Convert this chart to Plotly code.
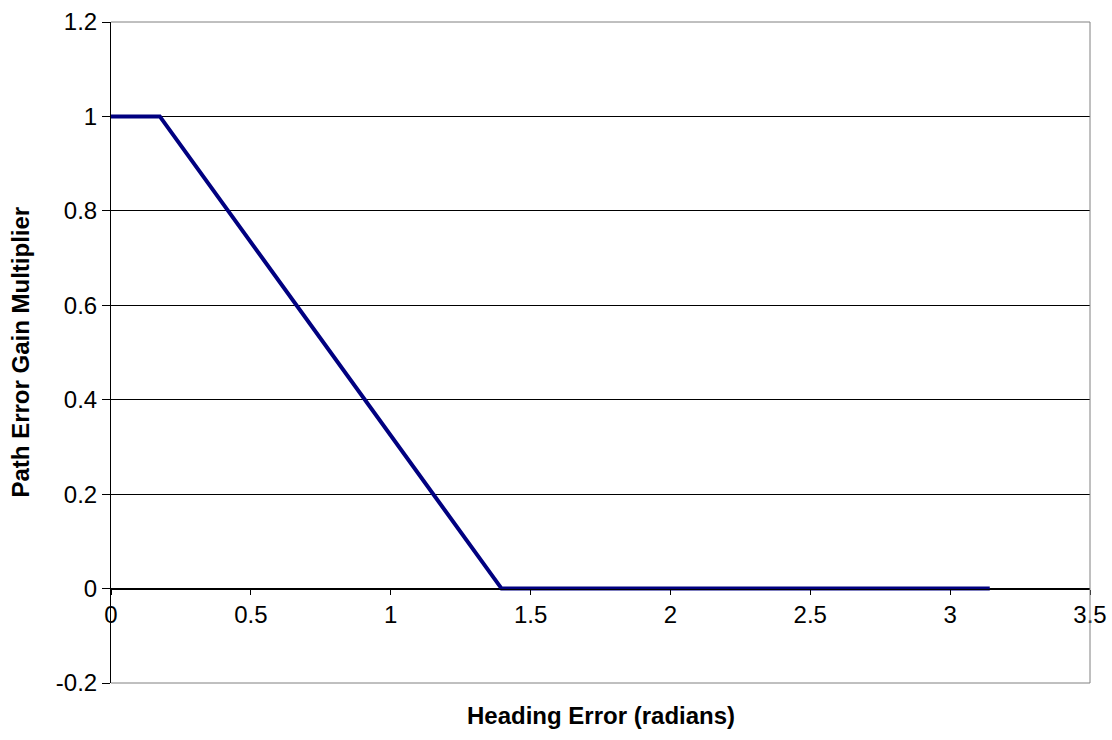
import plotly.graph_objects as go

# Data (breakpoints of the piecewise-linear gain curve)
heading_error = [0.0, 0.1745, 1.3963, 3.1416]
gain_multiplier = [1.0, 1.0, 0.0, 0.0]

x_ticks = [0, 0.5, 1, 1.5, 2, 2.5, 3, 3.5]
y_ticks = [-0.2, 0, 0.2, 0.4, 0.6, 0.8, 1, 1.2]

W, H = 1112, 740
ML, MR, MT, MB = 111, 22, 22, 57
plot_w = W - ML - MR
plot_h = H - MT - MB

FONT = "Liberation Sans, Arial, sans-serif"
FS = 24

fig = go.Figure()
fig.add_trace(go.Scatter(
    x=heading_error, y=gain_multiplier, mode="lines",
    line=dict(color="#000080", width=4), showlegend=False,
))

y0_frac = (0 - (-0.2)) / 1.4

fig.update_layout(
    width=W, height=H,
    margin=dict(l=ML, r=MR, t=MT, b=MB, autoexpand=False),
    paper_bgcolor="white", plot_bgcolor="white",
    font=dict(family=FONT, size=FS, color="black"),
    xaxis=dict(
        range=[0, 3.5], tickvals=x_ticks, ticktext=[f"{v:g}" for v in x_ticks],
        showgrid=False, zeroline=False, showline=True, linecolor="black", linewidth=1,
        ticks="outside", ticklen=5, tickcolor="black", automargin=False,
        anchor="free", position=y0_frac,
        tickfont=dict(size=FS, family=FONT),
    ),
    yaxis=dict(
        range=[-0.2, 1.2], tickvals=y_ticks, ticktext=[f"{v:g}" for v in y_ticks],
        showgrid=True, gridcolor="black", gridwidth=1, zeroline=False,
        showline=True, linecolor="black", linewidth=1, automargin=False,
        ticks="outside", ticklen=8, tickcolor="black",
        tickfont=dict(size=FS, family=FONT),
    ),
    shapes=[
        dict(type="line", xref="paper", yref="paper", x0=0, x1=1, y0=1, y1=1,
             line=dict(color="#808080", width=1)),
        dict(type="line", xref="paper", yref="paper", x0=1, x1=1, y0=0, y1=1,
             line=dict(color="#808080", width=1)),
        dict(type="line", xref="paper", yref="paper", x0=0, x1=1, y0=0, y1=0,
             line=dict(color="#808080", width=1)),
    ],
    annotations=[
        dict(text="<b>Heading Error (radians)</b>", xref="paper", yref="paper",
             x=0.5, y=-(715 - (H - MB)) / plot_h,
             showarrow=False, xanchor="center", yanchor="middle",
             font=dict(size=FS, family=FONT)),
        dict(text="<b>Path Error Gain Multiplier</b>", xref="paper", yref="paper",
             x=(20 - ML) / plot_w, y=0.5, textangle=-90,
             showarrow=False, xanchor="center", yanchor="middle",
             font=dict(size=FS, family=FONT)),
    ],
)

fig.write_html("out.html")
